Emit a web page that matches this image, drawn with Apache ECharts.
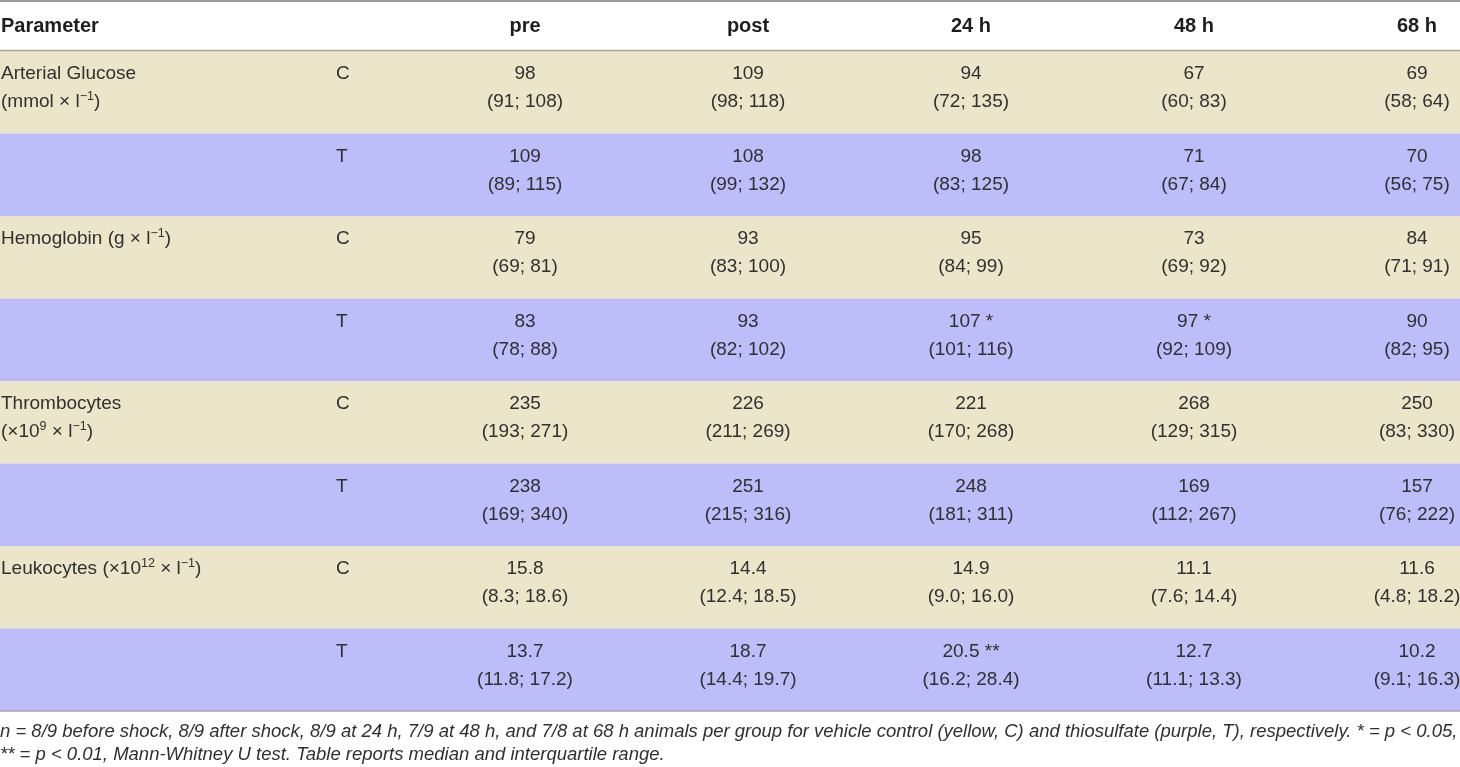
<!DOCTYPE html>
<html>
<head>
<meta charset="utf-8">
<script src="https://cdn.jsdelivr.net/npm/echarts@6/dist/echarts.min.js"></script>
<style>
html,body{margin:0;padding:0;background:#fff;}
#chart{width:1460px;height:767px;}
</style>
</head>
<body>
<div id="chart"></div>
<script>
// ---------------- DATA ----------------
const timepoints = ['pre', 'post', '24 h', '48 h', '68 h'];
const groups = ['C', 'T'];
const parameterLabels = [
  'Arterial Glucose\n(mmol × l{sup|−1})',
  'Hemoglobin (g × l{sup|−1})',
  'Thrombocytes\n(×10{sup|9} × l{sup|−1})',
  'Leukocytes (×10{sup|12} × l{sup|−1})'
];
const parameterDecimals = [0, 0, 0, 1];

const glucoseC_median = [98, 109, 94, 67, 69];
const glucoseC_q1     = [91, 98, 72, 60, 58];
const glucoseC_q3     = [108, 118, 135, 83, 64];
const glucoseT_median = [109, 108, 98, 71, 70];
const glucoseT_q1     = [89, 99, 83, 67, 56];
const glucoseT_q3     = [115, 132, 125, 84, 75];

const hemoglobinC_median = [79, 93, 95, 73, 84];
const hemoglobinC_q1     = [69, 83, 84, 69, 71];
const hemoglobinC_q3     = [81, 100, 99, 92, 91];
const hemoglobinT_median = [83, 93, 107, 97, 90];
const hemoglobinT_q1     = [78, 82, 101, 92, 82];
const hemoglobinT_q3     = [88, 102, 116, 109, 95];
const hemoglobinT_sig    = ['', '', '*', '*', ''];

const thrombocytesC_median = [235, 226, 221, 268, 250];
const thrombocytesC_q1     = [193, 211, 170, 129, 83];
const thrombocytesC_q3     = [271, 269, 268, 315, 330];
const thrombocytesT_median = [238, 251, 248, 169, 157];
const thrombocytesT_q1     = [169, 215, 181, 112, 76];
const thrombocytesT_q3     = [340, 316, 311, 267, 222];

const leukocytesC_median = [15.8, 14.4, 14.9, 11.1, 11.6];
const leukocytesC_q1     = [8.3, 12.4, 9.0, 7.6, 4.8];
const leukocytesC_q3     = [18.6, 18.5, 16.0, 14.4, 18.2];
const leukocytesT_median = [13.7, 18.7, 20.5, 12.7, 10.2];
const leukocytesT_q1     = [11.8, 14.4, 16.2, 11.1, 9.1];
const leukocytesT_q3     = [17.2, 19.7, 28.4, 13.3, 16.3];
const leukocytesT_sig    = ['', '', '**', '', ''];

const noSig = ['', '', '', '', ''];
const footnote = 'n = 8/9 before shock, 8/9 after shock, 8/9 at 24 h, 7/9 at 48 h, and 7/8 at 68 h animals per group for vehicle control (yellow, C) and thiosulfate (purple, T), respectively. * = p < 0.05,\n** = p < 0.01, Mann-Whitney U test. Table reports median and interquartile range.';

// ---------------- TABLE ROWS ----------------
const tableRows = [
  {p: 0, g: 'C', med: glucoseC_median, q1: glucoseC_q1, q3: glucoseC_q3, sig: noSig},
  {p: 0, g: 'T', med: glucoseT_median, q1: glucoseT_q1, q3: glucoseT_q3, sig: noSig},
  {p: 1, g: 'C', med: hemoglobinC_median, q1: hemoglobinC_q1, q3: hemoglobinC_q3, sig: noSig},
  {p: 1, g: 'T', med: hemoglobinT_median, q1: hemoglobinT_q1, q3: hemoglobinT_q3, sig: hemoglobinT_sig},
  {p: 2, g: 'C', med: thrombocytesC_median, q1: thrombocytesC_q1, q3: thrombocytesC_q3, sig: noSig},
  {p: 2, g: 'T', med: thrombocytesT_median, q1: thrombocytesT_q1, q3: thrombocytesT_q3, sig: noSig},
  {p: 3, g: 'C', med: leukocytesC_median, q1: leukocytesC_q1, q3: leukocytesC_q3, sig: noSig},
  {p: 3, g: 'T', med: leukocytesT_median, q1: leukocytesT_q1, q3: leukocytesT_q3, sig: leukocytesT_sig}
];
const rowKeys = tableRows.map((r, i) => 'row' + i + ' ' + r.g);

const cellList = [];
tableRows.forEach((r, i) => {
  const dec = parameterDecimals[r.p];
  timepoints.forEach((t, j) => {
    cellList.push({
      value: [j, i, r.med[j], r.q1[j], r.q3[j]],
      dec: dec,
      sig: r.sig[j]
    });
  });
});

// ---------------- STYLE ----------------
const FONT = '"Liberation Sans", Arial, Helvetica, sans-serif';
const TEXT_COLOR = '#303030';
const COLOR_C = '#ebe5ca';
const COLOR_T = '#bdbdfa';
const FS = 19;
const LH = 28;
const TEXT_OFFSET = 9;
const supStyle = {fontSize: 12.5, fontFamily: FONT, fill: TEXT_COLOR, verticalAlign: 'top', padding: [2, 0, 0, 0]};

const chart = echarts.init(document.getElementById('chart'), null, {renderer: 'canvas'});

const option = {
  backgroundColor: '#ffffff',
  animation: false,
  grid: {left: 525, right: 43, top: 51, bottom: 56, containLabel: false},
  xAxis: {
    type: 'value',
    min: 0,
    max: timepoints.length - 1,
    interval: 1,
    position: 'top',
    axisLine: {show: false},
    axisTick: {show: false},
    splitLine: {show: false},
    axisLabel: {
      fontFamily: FONT, fontWeight: 'bold', fontSize: 20, color: '#1e1e1e', margin: 15,
      formatter: function (v) { return timepoints[Math.round(v)] || ''; }
    }
  },
  yAxis: {
    type: 'category',
    data: rowKeys,
    inverse: true,
    show: false
  },
  graphic: [
    {type: 'line', shape: {x1: 0, y1: 1, x2: 1460, y2: 1}, style: {stroke: '#9a9a9a', lineWidth: 2}, z: 10},
    {type: 'line', shape: {x1: 0, y1: 50.5, x2: 1460, y2: 50.5}, style: {stroke: '#a8a8a8', lineWidth: 1.5}, z: 10},
    {type: 'line', shape: {x1: 0, y1: 711, x2: 1460, y2: 711}, style: {stroke: '#a8a8a8', lineWidth: 1.5}, z: 10},
    {type: 'text', x: 1, y: 26.5, style: {text: 'Parameter', fontFamily: FONT, fontWeight: 'bold', fontSize: 20, fill: '#1e1e1e', verticalAlign: 'middle', align: 'left'}},
    {type: 'text', x: 0, y: 720, style: {text: footnote, fontFamily: FONT, fontStyle: 'italic', fontSize: 18.5, lineHeight: 23, fill: TEXT_COLOR, verticalAlign: 'top', align: 'left'}}
  ],
  series: [
    {
      type: 'custom',
      name: 'rows',
      coordinateSystem: 'cartesian2d',
      encode: {x: 0, y: 1},
      data: tableRows.map((r, i) => [0, i]),
      z: 1,
      clip: false,
      renderItem: function (params, api) {
        const r = tableRows[params.dataIndex];
        const c = api.coord([api.value(0), api.value(1)]);
        const s = api.size([1, 1]);
        const top = c[1] - s[1] / 2;
        const children = [{
          type: 'rect',
          shape: {x: 0, y: top, width: api.getWidth(), height: s[1]},
          style: {fill: r.g === 'C' ? COLOR_C : COLOR_T}
        }, {
          type: 'text',
          style: {text: r.g, x: 336, y: top + TEXT_OFFSET, fontFamily: FONT, fontSize: FS, lineHeight: LH, fill: TEXT_COLOR, align: 'left', verticalAlign: 'top'}
        }];
        if (r.g === 'C') {
          children.push({
            type: 'text',
            style: {
              text: parameterLabels[r.p], x: 1, y: top + TEXT_OFFSET,
              fontFamily: FONT, fontSize: FS, lineHeight: LH, fill: TEXT_COLOR,
              align: 'left', verticalAlign: 'top',
              rich: {sup: supStyle}
            }
          });
        }
        return {type: 'group', children: children};
      }
    },
    {
      type: 'custom',
      name: 'cells',
      coordinateSystem: 'cartesian2d',
      encode: {x: 0, y: 1},
      data: cellList.map(d => d.value),
      z: 2,
      clip: false,
      renderItem: function (params, api) {
        const d = cellList[params.dataIndex];
        const c = api.coord([api.value(0), api.value(1)]);
        const s = api.size([1, 1]);
        const top = c[1] - s[1] / 2;
        const med = api.value(2).toFixed(d.dec) + (d.sig ? ' ' + d.sig : '');
        const iqr = '(' + api.value(3).toFixed(d.dec) + '; ' + api.value(4).toFixed(d.dec) + ')';
        return {
          type: 'text',
          style: {
            text: med + '\n' + iqr, x: c[0], y: top + TEXT_OFFSET,
            fontFamily: FONT, fontSize: FS, lineHeight: LH, fill: TEXT_COLOR,
            align: 'center', verticalAlign: 'top'
          }
        };
      }
    }
  ]
};
chart.setOption(option);
</script>
</body>
</html>
